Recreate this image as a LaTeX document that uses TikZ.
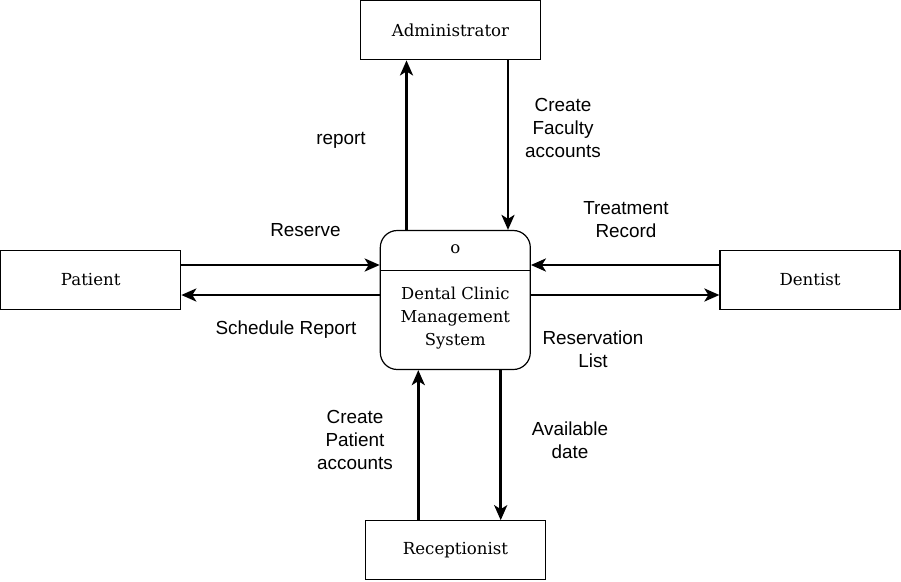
\documentclass[tikz,border=0pt]{standalone}
\usepackage{fontspec}
\setmainfont{DejaVu Serif}
\newfontfamily\lblfont{Liberation Sans}
\usetikzlibrary{arrows.meta}
\begin{document}
\begin{tikzpicture}[x=1pt,y=-1pt,
  entity/.style={draw=black,line width=1.2pt,minimum width=180pt,minimum height=59pt,inner sep=0pt,font=\fontsize{16.6}{20}\selectfont},
  flow/.style={line width=2.8pt,-{Stealth[length=15pt,width=13pt,inset=4pt]}},
  lbl/.style={font=\lblfont\fontsize{18.9}{23}\selectfont,align=center,inner sep=0pt}]
\useasboundingbox (0,0) rectangle (901,581);
\fill[white] (0,0) rectangle (901,581);
\node[entity] (admin) at (450.5,30.3) {Administrator};
\node[entity] (patient) at (90.7,280) {Patient};
\node[entity] (dentist) at (810,280) {Dentist};
\node[entity] (recep) at (455.5,550.3) {Receptionist};
\node[draw=black,line width=1.2pt,rounded corners=17pt,minimum width=150pt,minimum height=139pt,inner sep=0pt] (proc) at (455.3,300) {};
\draw[line width=0.9pt] (380.3,270) -- (530.3,270);
\node[font=\fontsize{16.6}{20}\selectfont] (pid) at (455.3,249) {o};
\node[font=\fontsize{16.4}{23}\selectfont,align=center] (pname) at (455.3,318) {Dental Clinic\\Management\\System};
% flows
\draw[flow] (proc.north -| 406.5,0) -- (admin.south -| 406.5,0);
\draw[flow] (admin.south -| 508,0) -- (proc.north -| 508,0);
\draw[flow] (patient.east |- 0,265) -- (proc.west |- 0,265);
\draw[flow] (proc.west |- 0,295) -- (patient.east |- 0,295);
\draw[flow] (dentist.west |- 0,265) -- (proc.east |- 0,265);
\draw[flow] (proc.east |- 0,295) -- (dentist.west |- 0,295);
\draw[flow] (recep.north -| 418.3,0) -- (proc.south -| 418.3,0);
\draw[flow] (proc.south -| 500.7,0) -- (recep.north -| 500.7,0);
% labels
\node[lbl] (l1) at (341,140) {report};
\node[lbl] (l2) at (563,128) {Create\\Faculty\\accounts};
\node[lbl] (l3) at (305.5,230) {Reserve};
\node[lbl] (l4) at (286,330) {Schedule Report};
\node[lbl] (l5) at (626,220) {Treatment\\Record};
\node[lbl] (l6) at (593,349.5) {Reservation\\List};
\node[lbl] (l7) at (355,439.5) {Create\\Patient\\accounts};
\node[lbl] (l8) at (570,440) {Available\\date};
\end{tikzpicture}
\end{document}
